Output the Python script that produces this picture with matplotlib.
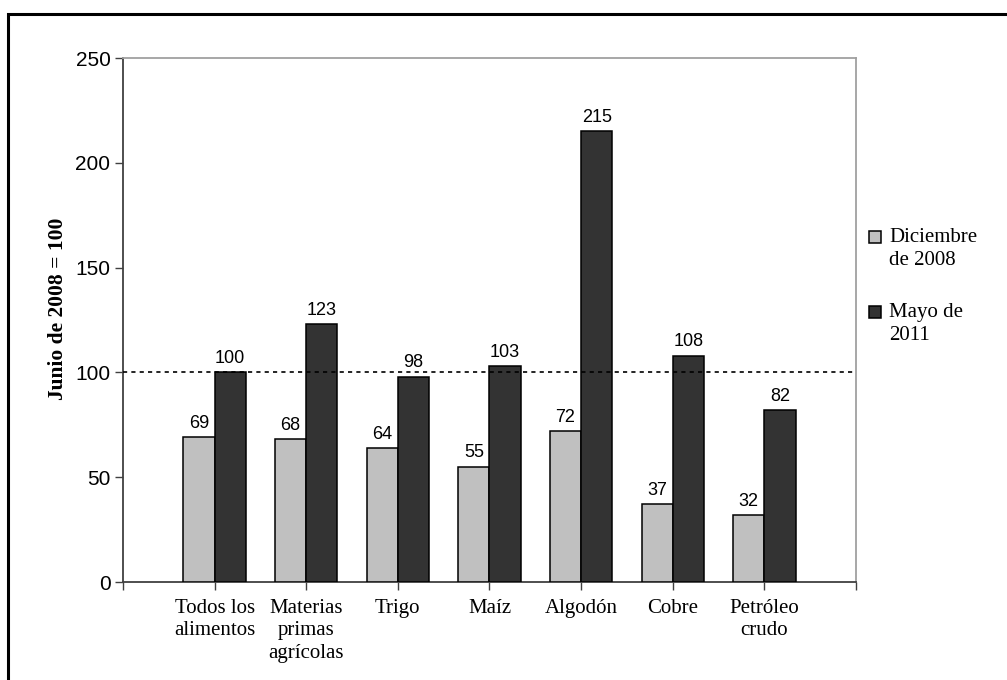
import matplotlib.pyplot as plt
from matplotlib.patches import Rectangle

# Data (Junio de 2008 = 100)
categorias = ["Todos los\nalimentos", "Materias\nprimas\nagrícolas", "Trigo", "Maíz",
              "Algodón", "Cobre", "Petróleo\ncrudo"]
dic_2008 = [69, 68, 64, 55, 72, 37, 32]
may_2011 = [100, 123, 98, 103, 215, 108, 82]
serie_labels = ["Diciembre\nde 2008", "Mayo de\n2011"]
colores = ["#c0c0c0", "#333333"]

SERIF = ["Liberation Serif", "DejaVu Serif"]
SANS = ["Liberation Sans", "DejaVu Sans"]

fig = plt.figure(figsize=(10.07, 6.8), dpi=100)
ax = fig.add_axes([123 / 1007, 1 - 582 / 680, (856 - 123) / 1007, (582 - 58) / 680])

x = list(range(1, len(categorias) + 1))
w = 0.34
b1 = ax.bar([i - w for i in x], dic_2008, width=w, align="edge", color=colores[0],
            edgecolor="black", linewidth=1.1, zorder=3)
b2 = ax.bar(x, may_2011, width=w, align="edge", color=colores[1],
            edgecolor="black", linewidth=1.1, zorder=3)

for bars, vals in ((b1, dic_2008), (b2, may_2011)):
    for r, v in zip(bars, vals):
        ax.text(r.get_x() + r.get_width() / 2, v + 2.5, str(v), ha="center", va="bottom",
                fontsize=13, family=SANS, zorder=4)

ax.axhline(100, color="black", linewidth=1.2, linestyle=(0, (2.5, 2.5)), zorder=4)

ax.set_xlim(0, len(categorias) + 1)
ax.set_ylim(0, 250)
ax.set_yticks(range(0, 251, 50))
ax.set_xticks(range(0, len(categorias) + 2))
ax.set_xticklabels([""] + categorias + [""], family=SERIF, fontsize=15, linespacing=1.27)
for lab in ax.get_yticklabels():
    lab.set_family(SANS)
    lab.set_fontsize(15)
ax.tick_params(axis="x", direction="out", length=6, width=1, color="#404040", pad=6)
ax.tick_params(axis="y", direction="out", length=6, width=1, color="#404040", pad=3)

ax.spines["left"].set_color("#404040")
ax.spines["bottom"].set_color("#404040")
ax.spines["top"].set_color("#a0a0a0")
ax.spines["right"].set_color("#a0a0a0")
for s in ax.spines.values():
    s.set_linewidth(1.3)

ax.set_ylabel("Junio de 2008 = 100", family=SERIF, fontsize=15.5, fontweight="bold")
ax.yaxis.set_label_coords(-0.075, 0.521)

# legend drawn by hand to keep the square aligned with the first line
leg_y = [1 - 237.5 / 680, 1 - 312.5 / 680]
for lab, col, yy in zip(serie_labels, colores, leg_y):
    fig.patches.append(Rectangle((869 / 1007, yy - 6 / 680), 12 / 1007, 12 / 680,
                                 transform=fig.transFigure, facecolor=col,
                                 edgecolor="black", linewidth=1.1))
    fig.text(889 / 1007, yy + 9 / 680, lab, family=SERIF, fontsize=15, va="top",
             ha="left", linespacing=1.28)

# outer frame
fig.patches.append(Rectangle((8 / 1007, -0.1), 1.2, 1 - 14 / 680 + 0.1,
                             transform=fig.transFigure, fill=False,
                             edgecolor="black", linewidth=2.2, clip_on=False))

fig.savefig("out.png", dpi=100)
